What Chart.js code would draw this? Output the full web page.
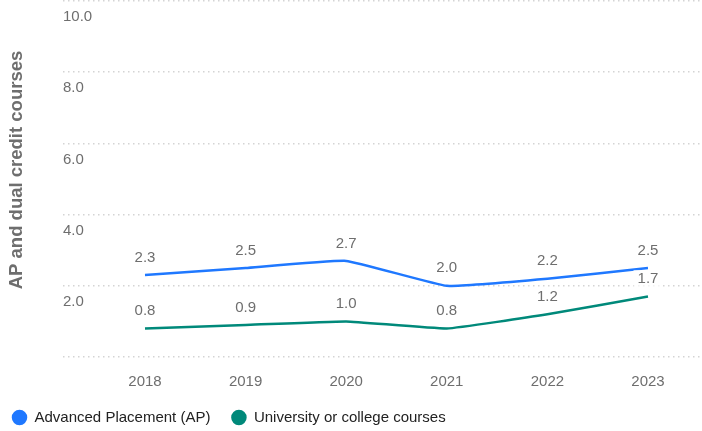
<!DOCTYPE html>
<html>
<head>
<meta charset="utf-8">
<script src="https://cdn.jsdelivr.net/npm/chart.js@4"></script>
<style>
html,body{margin:0;padding:0;background:#fff;}
#wrap{width:702px;height:431px;position:relative;}
</style>
</head>
<body>
<div id="wrap"><canvas id="c"></canvas></div>
<script>
const years = [2018, 2019, 2020, 2021, 2022, 2023];
const apValues = [2.3, 2.5, 2.7, 2.0, 2.2, 2.5];
const collegeValues = [0.8, 0.9, 1.0, 0.8, 1.2, 1.7];
const seriesNames = ['Advanced Placement (AP)', 'University or college courses'];
const yTicks = [0, 2, 4, 6, 8, 10];
const yTitle = 'AP and dual credit courses';

const FONT = '"Liberation Sans", Arial, sans-serif';
const BLUE = '#1f78ff';
const GREEN = '#00897a';
const GRAY = '#6e6e6e';

const labelPlugin = {
  id: 'valueLabels',
  afterLayout(chart) {
    if (chart.legend) { chart.legend.left -= 9; chart.legend.top -= 2; }
  },
  afterDatasetsDraw(chart) {
    const ctx = chart.ctx;
    ctx.save();
    ctx.font = '15px ' + FONT;
    ctx.textAlign = 'center';
    ctx.textBaseline = 'middle';
    chart.data.datasets.forEach((ds, di) => {
      const meta = chart.getDatasetMeta(di);
      meta.data.forEach((pt, i) => {
        const txt = ds.data[i].y.toFixed(1);
        const x = pt.x, y = pt.y - 17.5;
        const w = ctx.measureText(txt).width + 8;
        ctx.fillStyle = 'rgba(255,255,255,0.7)';
        ctx.fillRect(x - w / 2, y - 9, w, 18);
        ctx.fillStyle = GRAY;
        ctx.fillText(txt, x, y);
      });
    });
    // y axis title
    ctx.translate(17, 170);
    ctx.rotate(-Math.PI / 2);
    ctx.font = 'bold 18.5px ' + FONT;
    ctx.fillStyle = GRAY;
    ctx.fillText(yTitle, 0, 0);
    ctx.restore();
  }
};

const toPoints = vals => years.map((yr, i) => ({x: yr, y: vals[i]}));

new Chart(document.getElementById('c'), {
  type: 'line',
  data: {
    datasets: [
      {label: seriesNames[0], data: toPoints(apValues), borderColor: BLUE, backgroundColor: BLUE, borderWidth: 2.5, pointRadius: 0, tension: 0.1},
      {label: seriesNames[1], data: toPoints(collegeValues), borderColor: GREEN, backgroundColor: GREEN, borderWidth: 2.5, pointRadius: 0, tension: 0.1}
    ]
  },
  options: {
    responsive: true,
    maintainAspectRatio: false,
    animation: false,
    layout: {padding: {top: 1, right: 0, left: 0, bottom: 0}},
    plugins: {
      tooltip: {enabled: false},
      legend: {
        position: 'bottom',
        align: 'start',
        maxHeight: 40,
        labels: {
          usePointStyle: true,
          pointStyle: 'circle',
          boxWidth: 15,
          boxHeight: 9.2,
          padding: 21,
          color: '#222',
          font: {size: 15, family: FONT}
        }
      }
    },
    scales: {
      x: {
        type: 'linear',
        min: 2017.185,
        max: 2023.537,
        afterFit: s => { s.height = 34; },
        grid: {display: false},
        border: {display: false},
        afterBuildTicks: s => { s.ticks = years.map(v => ({value: v})); },
        ticks: {
          color: GRAY,
          padding: 8,
          font: {size: 15, family: FONT},
          callback: v => String(v)
        }
      },
      y: {
        min: 0,
        max: 10,
        afterFit: s => { s.width = 63; s.paddingTop = 0; s.paddingBottom = 0; },
        afterBuildTicks: s => { s.ticks = yTicks.map(v => ({value: v})); },
        grid: {color: '#d4d4d4', lineWidth: 1.5, drawTicks: false},
        border: {display: false, dash: [1.5, 3.5]},
        title: {display: false},
        ticks: {
          mirror: true,
          padding: 0,
          labelOffset: 16,
          color: GRAY,
          font: {size: 15, family: FONT},
          callback: v => v === 0 ? '' : v.toFixed(1)
        }
      }
    }
  },
  plugins: [labelPlugin]
});
</script>
</body>
</html>
